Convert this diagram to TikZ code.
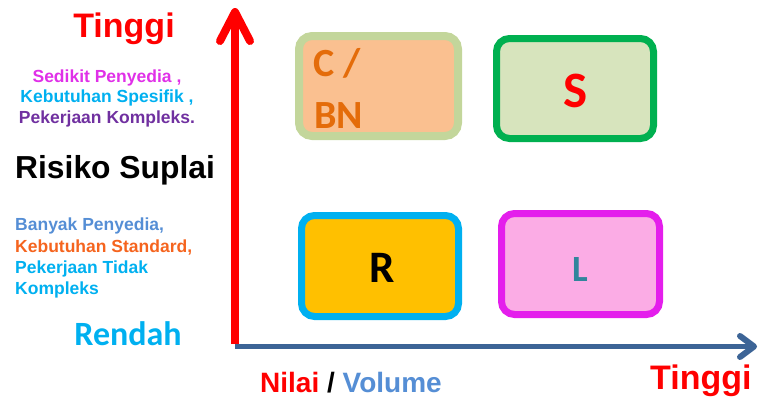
\documentclass[tikz,border=0pt]{standalone}
\usepackage{fontspec}
\setmainfont{Liberation Sans}
\newfontfamily\carlito{Carlito}
\definecolor{axred}{HTML}{FF0000}
\definecolor{axblue}{HTML}{3C6496}
\definecolor{cbnborder}{HTML}{C3D69B}
\definecolor{cbnfill}{HTML}{FAC090}
\definecolor{cbntext}{HTML}{E46C0A}
\definecolor{sborder}{HTML}{00B050}
\definecolor{sfill}{HTML}{D7E4BD}
\definecolor{rborder}{HTML}{00B0F0}
\definecolor{rfill}{HTML}{FFC000}
\definecolor{lborder}{HTML}{E41EEC}
\definecolor{lfill}{HTML}{FBACE5}
\definecolor{ltext}{HTML}{31859C}
\definecolor{tmagenta}{HTML}{E030E8}
\definecolor{tcyan}{HTML}{00B0F0}
\definecolor{tpurple}{HTML}{7030A0}
\definecolor{tcorn}{HTML}{558ED5}
\definecolor{torange}{HTML}{F5641E}
\begin{document}
\begin{tikzpicture}[x=1pt,y=-1pt,
  quad/.style={draw, rounded corners=13pt, line width=7pt, inner sep=0pt},
  lbl/.style={inner sep=0pt, font=\bfseries\fontsize{17.5}{17.5}\selectfont},
  big/.style={inner sep=0pt, font=\bfseries\fontsize{34}{34}\selectfont},
  boxletter/.style={inner sep=0pt, anchor=base, font=\carlito\bfseries}]
\useasboundingbox (0,0) rectangle (762,399);
% boxes
\node[quad, draw=cbnborder, fill=cbnfill, line width=8pt, minimum width=159pt, minimum height=100pt] (cbn) at (378.5,86) {};
\node[quad, draw=sborder, fill=sfill, minimum width=157pt, minimum height=100pt] (S) at (575,88.5) {};
\node[quad, draw=rborder, fill=rfill, minimum width=157pt, minimum height=101pt] (R) at (380,266) {};
\node[quad, draw=lborder, fill=lfill, minimum width=158pt, minimum height=101pt] (L) at (580.5,264) {};
\node[boxletter, anchor=base west, text=cbntext, font=\carlito\bfseries\fontsize{40}{40}\selectfont] (cbn1) at (313,76) {C /};
\node[boxletter, anchor=base west, text=cbntext, font=\carlito\bfseries\fontsize{40}{40}\selectfont] (cbn2) at (314,128) {BN};
\node[boxletter, text=axred, font=\carlito\bfseries\fontsize{51}{51}\selectfont] (St) at (576,107) {S};
\node[boxletter, text=black, font=\carlito\bfseries\fontsize{45}{45}\selectfont] (Rt) at (382,282) {R};
\node[boxletter, text=ltext, font=\carlito\bfseries\fontsize{37}{37}\selectfont] (Lt) at (580,281) {L};
% axes
\coordinate (org) at (235,346.5);
\coordinate (ytip) at (235,12);
\coordinate (xtip) at (754,346.5);
\draw[axred, line width=8pt] (235,344) -- (235,16);
\draw[axred, line width=8pt, line cap=round, line join=round] (220,41) -- (ytip) -- (250,41);
\draw[axblue, line width=5.5pt] (org) -- (751,346.5);
\draw[axblue, line width=6pt, line cap=round, line join=round] (740,336) -- (xtip) -- (740,357);
% texts
\node[big, anchor=base, text=axred] (tinggiY) at (124,37) {Tinggi};
\node[lbl, anchor=base, text=tmagenta] (sedikit) at (107,82) {Sedikit Penyedia ,};
\node[lbl, anchor=base, text=tcyan] (spesifik) at (107,102.5) {Kebutuhan Spesifik ,};
\node[lbl, anchor=base, text=tpurple] (kompleks) at (107,123) {Pekerjaan Kompleks.};
\node[inner sep=0pt, anchor=base west, font=\bfseries\fontsize{31.8}{31.8}\selectfont] (risiko) at (15,178) {Risiko Suplai};
\node[lbl, anchor=base west, text=tcorn] (banyak) at (15,230) {Banyak Penyedia,};
\node[lbl, anchor=base west, text=torange] (standard) at (15,252) {Kebutuhan Standard,};
\node[lbl, anchor=base west, text=tcyan] (tidak) at (15,273) {Pekerjaan Tidak};
\node[lbl, anchor=base west, text=tcyan] (kompleks2) at (15,294) {Kompleks};
\node[inner sep=0pt, anchor=base, text=tcyan, font=\carlito\bfseries\fontsize{34}{34}\selectfont] (rendah) at (128,345) {Rendah};
\node[inner sep=0pt, anchor=base west, font=\bfseries\fontsize{28}{28}\selectfont] (nilai) at (260,392) {\textcolor{axred}{Nilai} / \textcolor{tcorn}{Volume}};
\node[big, anchor=base west, text=axred] (tinggiX) at (650,389) {Tinggi};
\end{tikzpicture}
\end{document}
